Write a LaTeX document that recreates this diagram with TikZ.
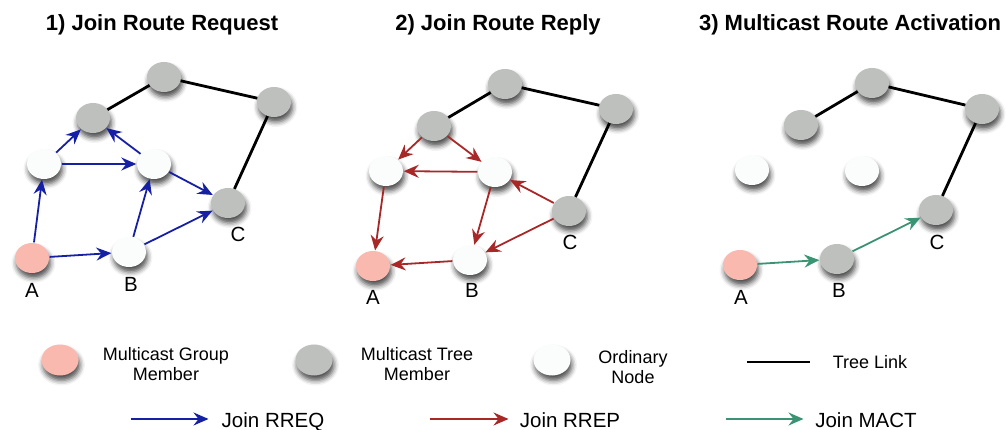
\documentclass[tikz,border=0pt]{standalone}
\usepackage{fontspec}
\setmainfont{Liberation Sans}
\usetikzlibrary{arrows.meta,shapes.geometric,shadows.blur}
\definecolor{pinkn}{RGB}{250,185,175}
\definecolor{grayn}{RGB}{190,192,190}
\definecolor{whiten}{RGB}{251,253,253}
\definecolor{rreq}{RGB}{22,32,165}
\definecolor{rrep}{RGB}{168,40,40}
\definecolor{mact}{RGB}{58,148,116}
\tikzset{
  nd/.style={ellipse, minimum width=34pt, minimum height=30pt, inner sep=0pt,
    blur shadow={shadow xshift=1.5pt, shadow yshift=-5pt, shadow blur radius=5pt, shadow opacity=70}},
  member/.style={nd, fill=pinkn},
  tree/.style={nd, fill=grayn},
  ordinary/.style={nd, fill=whiten},
  treelink/.style={line width=2.8pt, black},
  arr/.style={-{Stealth[length=15pt,width=13pt,inset=5pt]}, line width=1.8pt, shorten >=0.5pt, shorten <=0.5pt},
  req/.style={arr, rreq},
  rep/.style={arr, rrep},
  act/.style={arr, mact},
  title/.style={anchor=base, font=\bfseries\fontsize{22}{26}\selectfont},
  lbl/.style={anchor=base, font=\fontsize{20.5}{24}\selectfont},
  legtxt/.style={align=center, font=\fontsize{18}{20}\selectfont},
  legarr/.style={anchor=base, font=\fontsize{20.5}{24}\selectfont},
}
\begin{document}
\begin{tikzpicture}[x=1pt, y=-1pt]
\useasboundingbox (0,0) rectangle (1007,430);
% titles
\node[title] (t1) at (162,31) {1) Join Route Request};
\node[title] (t2) at (498,31) {2) Join Route Reply};
\node[title] (t3) at (850,31) {3) Multicast Route Activation};

% ---------- panel 1 ----------
\node[member]   (a1)  at (32,258) {};
\node[ordinary] (b1)  at (129,252) {};
\node[tree]     (c1)  at (228,203) {};
\node[ordinary] (w11) at (44,164) {};
\node[ordinary] (w12) at (154,164) {};
\node[tree]     (gl1) at (93,118) {};
\node[tree]     (gt1) at (164,77) {};
\node[tree]     (gr1) at (274,102) {};
\node[lbl] (la1) at (32,298) {A};
\node[lbl] (lb1) at (131,292) {B};
\node[lbl] (lc1) at (238,242) {C};
\draw[treelink] (gl1) -- (gt1) -- (gr1) -- (c1);
\draw[req] (a1) -- (w11);
\draw[req] (a1) -- (b1);
\draw[req] (w11) -- (gl1);
\draw[req] (w11) -- (w12);
\draw[req] (b1) -- (w12);
\draw[req] (w12) -- (gl1);
\draw[req] (w12) -- (c1);
\draw[req] (b1) -- (c1);

% ---------- panel 2 ----------
\node[member]   (a2)  at (373,266) {};
\node[ordinary] (b2)  at (470,260) {};
\node[tree]     (c2)  at (569,211) {};
\node[ordinary] (w21) at (386,171) {};
\node[ordinary] (w22) at (495,172) {};
\node[tree]     (gl2) at (434,126) {};
\node[tree]     (gt2) at (505,84) {};
\node[tree]     (gr2) at (616,109) {};
\node[lbl] (la2) at (373,305) {A};
\node[lbl] (lb2) at (472,298) {B};
\node[lbl] (lc2) at (570,250) {C};
\draw[treelink] (gl2) -- (gt2) -- (gr2) -- (c2);
\draw[rep] (gl2) -- (w21);
\draw[rep] (gl2) -- (w22);
\draw[rep] (w22) -- (w21);
\draw[rep] (w21) -- (a2);
\draw[rep] (w22) -- (b2);
\draw[rep] (c2) -- (w22);
\draw[rep] (c2) -- (b2);
\draw[rep] (b2) -- (a2);

% ---------- panel 3 ----------
\node[member]   (a3)  at (740,265) {};
\node[tree]     (b3)  at (837,259) {};
\node[tree]     (c3)  at (936,210) {};
\node[ordinary] (w31) at (752,170) {};
\node[ordinary] (w32) at (862,171) {};
\node[tree]     (gl3) at (801,125) {};
\node[tree]     (gt3) at (872,83) {};
\node[tree]     (gr3) at (982,109) {};
\node[lbl] (la3) at (741,305) {A};
\node[lbl] (lb3) at (839,298) {B};
\node[lbl] (lc3) at (937,250) {C};
\draw[treelink] (gl3) -- (gt3) -- (gr3) -- (c3);
\draw[act] (a3) -- (b3);
\draw[act] (b3) -- (c3);

% ---------- legend ----------
\node[member, minimum width=37pt, minimum height=31pt]   (lgm) at (60,360) {};
\node[legtxt] (lgmt) at (166,364) {Multicast Group\\Member};
\node[tree, minimum width=37pt, minimum height=31pt]     (lgt) at (314,360) {};
\node[legtxt] (lgtt) at (417,364) {Multicast Tree\\Member};
\node[ordinary, minimum width=37pt, minimum height=31pt] (lgo) at (552,360) {};
\node[legtxt] (lgot) at (633,367) {Ordinary\\Node};
\coordinate (tl1) at (747,362);
\coordinate (tl2) at (810,362);
\draw[line width=2.4pt] (tl1) -- (tl2);
\node[anchor=base, font=\fontsize{18}{20}\selectfont] (tlt) at (870,368) {Tree Link};

\coordinate (r1s) at (130,419); \coordinate (r1e) at (209,419);
\draw[arr, rreq, line width=1.5pt] (r1s) -- (r1e);
\node[legarr] (r1t) at (273,427) {Join RREQ};
\coordinate (r2s) at (429,419); \coordinate (r2e) at (509,419);
\draw[arr, rrep, line width=1.5pt] (r2s) -- (r2e);
\node[legarr] (r2t) at (570,427) {Join RREP};
\coordinate (r3s) at (725,419); \coordinate (r3e) at (804,419);
\draw[arr, mact, line width=1.5pt] (r3s) -- (r3e);
\node[legarr] (r3t) at (866,427) {Join MACT};
\end{tikzpicture}
\end{document}
